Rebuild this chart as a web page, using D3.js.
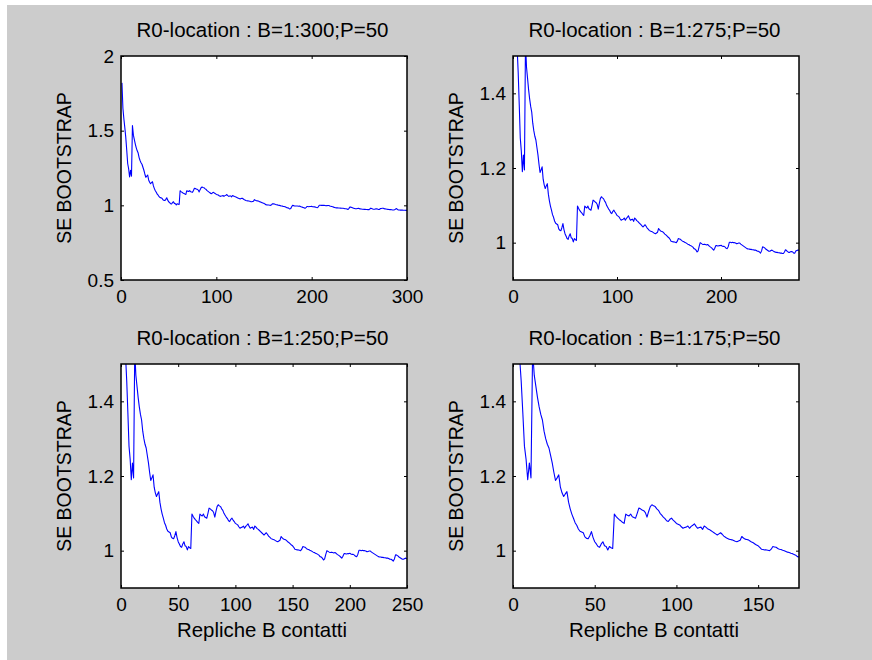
<!DOCTYPE html>
<html>
<head>
<meta charset="utf-8">
<script src="https://cdn.jsdelivr.net/npm/d3@7"></script>
<style>
  html, body { margin: 0; padding: 0; background: #ffffff; }
  svg { display: block; }
  text { font-family: "Liberation Sans", Arial, Helvetica, sans-serif; fill: #000; }
</style>
</head>
<body>
<svg id="fig" width="872" height="660"></svg>
<script>
// Bootstrap standard error of R0-location, running over replicates B = 1..300
const seBootstrap = [
  1.82, 1.65, 1.58, 1.52, 1.455, 1.37, 1.28, 1.245, 1.19, 1.235,
  1.195, 1.535, 1.47, 1.44, 1.41, 1.385, 1.365, 1.35, 1.32, 1.30,
  1.285, 1.275, 1.255, 1.235, 1.21, 1.188, 1.195, 1.203, 1.17, 1.155,
  1.145, 1.152, 1.158, 1.13, 1.112, 1.098, 1.087, 1.075, 1.068, 1.058,
  1.052, 1.05, 1.048, 1.037, 1.033, 1.032, 1.04, 1.051, 1.035, 1.024,
  1.018, 1.011, 1.009, 1.018, 1.024, 1.013, 1.011, 1.002, 1.011, 1.008,
  1.006, 1.098, 1.092, 1.087, 1.083, 1.08, 1.076, 1.073, 1.098, 1.095,
  1.093, 1.098, 1.091, 1.089, 1.087, 1.1, 1.114, 1.112, 1.109, 1.107,
  1.102, 1.09, 1.105, 1.118, 1.123, 1.12, 1.118, 1.112, 1.108, 1.1,
  1.095, 1.09, 1.086, 1.08, 1.078, 1.084, 1.087, 1.082, 1.078, 1.073,
  1.071, 1.069, 1.064, 1.06, 1.062, 1.063, 1.066, 1.06, 1.065, 1.068,
  1.072, 1.065, 1.06, 1.062, 1.063, 1.057, 1.066, 1.063, 1.059, 1.057,
  1.054, 1.051, 1.048, 1.045, 1.042, 1.045, 1.048, 1.044, 1.039, 1.036,
  1.033, 1.031, 1.03, 1.029, 1.027, 1.025, 1.024, 1.026, 1.028, 1.038,
  1.034, 1.031, 1.03, 1.029, 1.026, 1.023, 1.021, 1.018, 1.015, 1.013,
  1.009, 1.004, 1.003, 1.002, 1.002, 1.001, 1.0, 1.004, 1.011, 1.01,
  1.009, 1.006, 1.004, 1.003, 1.001, 1.0, 0.998, 0.996, 0.995, 0.993,
  0.992, 0.99, 0.988, 0.984, 0.983, 0.98, 0.975, 0.978, 0.99, 1.0,
  0.998, 0.996, 0.995, 0.996, 0.995, 0.994, 0.995, 0.993, 0.99, 0.988,
  0.986, 0.983, 0.98, 0.985, 0.992, 0.992, 0.991, 0.992, 0.992, 0.993,
  0.991, 0.99, 0.99, 0.988, 0.985, 0.984, 0.99, 1.001, 1.001, 1.0,
  1.001, 1.0, 1.0, 0.999, 0.997, 0.998, 0.999, 0.999, 0.996, 0.994,
  0.992, 0.99, 0.988, 0.986, 0.984, 0.983, 0.983, 0.982, 0.982, 0.981,
  0.981, 0.98, 0.98, 0.979, 0.977, 0.977, 0.975, 0.972, 0.978, 0.989,
  0.988, 0.986, 0.983, 0.981, 0.979, 0.977, 0.977, 0.979, 0.98, 0.978,
  0.976, 0.975, 0.974, 0.974, 0.973, 0.973, 0.972, 0.972, 0.971, 0.971,
  0.975, 0.981, 0.979, 0.976, 0.974, 0.974, 0.976, 0.976, 0.975, 0.972,
  0.972, 0.978, 0.979, 0.98, 0.98, 0.978, 0.976, 0.975, 0.974, 0.973,
  0.972, 0.971, 0.971, 0.97, 0.969, 0.969, 0.97, 0.975, 0.978, 0.972,
  0.969, 0.969, 0.968, 0.968, 0.968, 0.967, 0.967, 0.967, 0.966, 0.966
];

// Number of replicates shown in each subplot (B = 1:N)
const replicateCounts = [300, 275, 250, 175];
const panelTitles = [
  "R0-location : B=1:300;P=50",
  "R0-location : B=1:275;P=50",
  "R0-location : B=1:250;P=50",
  "R0-location : B=1:175;P=50"
];
const yDomains = [[0.5, 2], [0.9, 1.5], [0.9, 1.5], [0.9, 1.5]];
const xTickValues = [
  [0, 100, 200, 300],
  [0, 100, 200],
  [0, 50, 100, 150, 200, 250],
  [0, 50, 100, 150]
];
const yTickValues = [
  [0.5, 1, 1.5, 2],
  [1, 1.2, 1.4],
  [1, 1.2, 1.4],
  [1, 1.2, 1.4]
];
const yLabelText = "SE BOOTSTRAP";
const xLabelText = "Repliche B contatti";
const showXLabel = [false, false, true, true];

// Layout of the 2x2 grid of axes (pixels)
const boxes = [
  { left: 121, right: 407, top: 56, bottom: 280 },
  { left: 513, right: 799, top: 56, bottom: 280 },
  { left: 121, right: 407, top: 364, bottom: 588 },
  { left: 513, right: 799, top: 364, bottom: 588 }
];

const svg = d3.select("#fig");
const W = 872, H = 660;

// figure background (grey window colour)
svg.append("rect")
  .attr("x", 7).attr("y", 5)
  .attr("width", W - 7).attr("height", H - 5)
  .attr("fill", "#cccccc");

const fmt = d3.format("~g");
const TICK = 3;

boxes.forEach((b, i) => {
  const n = replicateCounts[i];
  const data = seBootstrap.slice(0, n).map((v, k) => ({ b: k + 1, se: v }));

  const x = d3.scaleLinear().domain([0, n]).range([b.left, b.right]);
  const y = d3.scaleLinear().domain(yDomains[i]).range([b.bottom, b.top]);

  const g = svg.append("g");

  // plot area
  g.append("rect")
    .attr("x", b.left).attr("y", b.top)
    .attr("width", b.right - b.left).attr("height", b.bottom - b.top)
    .attr("fill", "#ffffff");

  const clipId = "clip" + i;
  svg.append("clipPath").attr("id", clipId)
    .append("rect")
    .attr("x", b.left).attr("y", b.top)
    .attr("width", b.right - b.left).attr("height", b.bottom - b.top);

  // series line
  const line = d3.line().x(d => x(d.b)).y(d => y(d.se));
  g.append("path")
    .datum(data)
    .attr("clip-path", `url(#${clipId})`)
    .attr("fill", "none")
    .attr("stroke", "#0000ff")
    .attr("stroke-width", 1.1)
    .attr("stroke-linejoin", "round")
    .attr("d", line);

  // axes with inward ticks on all four sides
  const styleAxis = sel => {
    sel.select(".domain").remove();
    sel.selectAll(".tick line").attr("stroke", "#000").attr("stroke-width", 1);
    sel.selectAll(".tick text")
      .attr("font-size", 19)
      .attr("font-family", '"Liberation Sans", Arial, sans-serif')
      .attr("fill", "#000");
  };

  g.append("g")
    .attr("transform", `translate(0,${b.bottom})`)
    .call(d3.axisBottom(x).tickValues(xTickValues[i]).tickFormat(fmt)
      .tickSizeInner(-TICK).tickSizeOuter(0).tickPadding(10))
    .call(styleAxis);

  g.append("g")
    .attr("transform", `translate(0,${b.top})`)
    .call(d3.axisTop(x).tickValues(xTickValues[i]).tickFormat("")
      .tickSizeInner(-TICK).tickSizeOuter(0))
    .call(styleAxis);

  g.append("g")
    .attr("transform", `translate(${b.left},0)`)
    .call(d3.axisLeft(y).tickValues(yTickValues[i]).tickFormat(fmt)
      .tickSizeInner(-TICK).tickSizeOuter(0).tickPadding(7))
    .call(styleAxis);

  g.append("g")
    .attr("transform", `translate(${b.right},0)`)
    .call(d3.axisRight(y).tickValues(yTickValues[i]).tickFormat("")
      .tickSizeInner(-TICK).tickSizeOuter(0))
    .call(styleAxis);

  // axes box
  g.append("rect")
    .attr("x", b.left).attr("y", b.top)
    .attr("width", b.right - b.left).attr("height", b.bottom - b.top)
    .attr("fill", "none")
    .attr("stroke", "#000")
    .attr("stroke-width", 1.5);

  const cx = (b.left + b.right) / 2;
  const cy = (b.top + b.bottom) / 2;

  // title
  g.append("text")
    .attr("x", cx - 1.5).attr("y", b.top - 19)
    .attr("text-anchor", "middle")
    .attr("font-size", 20.5)
    .text(panelTitles[i]);

  // y label
  g.append("text")
    .attr("transform", `translate(${b.left - 50.5},${cy}) rotate(-90)`)
    .attr("text-anchor", "middle")
    .attr("font-size", 19.5)
    .text(yLabelText);

  // x label
  if (showXLabel[i]) {
    g.append("text")
      .attr("x", cx - 2).attr("y", b.bottom + 48.5)
      .attr("text-anchor", "middle")
      .attr("font-size", 20.4)
      .text(xLabelText);
  }
});
</script>
</body>
</html>
